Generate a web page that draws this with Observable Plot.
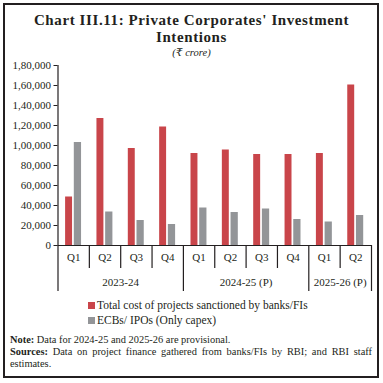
<!DOCTYPE html>
<html>
<head>
<meta charset="utf-8">
<script src="https://cdn.jsdelivr.net/npm/d3@7"></script>
<script src="https://cdn.jsdelivr.net/npm/@observablehq/plot@0.6"></script>
<style>
  html, body { margin: 0; padding: 0; background: #fff; }
  body { width: 383px; height: 383px; position: relative; overflow: hidden; font-family: "Liberation Serif", "DejaVu Serif", serif; color: #231f20; }
  #frame { position: absolute; left: 3px; top: 3px; width: 372px; height: 371px; border: 2px solid #231f20; }
  .title { position: absolute; left: 0; width: 383px; text-align: center; font-weight: bold; font-size: 15px; line-height: 16px; letter-spacing: 0.6px; color: #231f20; white-space: nowrap; }
  #subtitle { position: absolute; left: 0; top: 46.5px; width: 383px; text-align: center; font-style: italic; font-size: 10.5px; line-height: 11px; }
  #chart { position: absolute; left: 0; top: 55px; }
  .leg { position: absolute; left: 88px; font-size: 11.5px; line-height: 12px; white-space: nowrap; }
  .sw { display: inline-block; width: 7px; height: 7px; margin-right: 2px; vertical-align: 0px; }
  .note { position: absolute; left: 10px; width: 362px; font-size: 10.4px; line-height: 12px; white-space: nowrap; }
  .just { text-align: justify; text-align-last: justify; white-space: normal; }
</style>
</head>
<body>
<div id="frame"></div>
<div class="title" style="top:12px">Chart III.11: Private Corporates' Investment</div>
<div class="title" style="top:29px">Intentions</div>
<div id="subtitle">(₹ crore)</div>
<div id="chart"></div>
<div id="legend"></div>
<div class="note" style="top:334px"><b>Note:</b> Data for 2024-25 and 2025-26 are provisional.</div>
<div class="note just" style="top:346px"><b>Sources:</b> Data on project finance gathered from banks/FIs by RBI; and RBI staff</div>
<div class="note" style="top:358px">estimates.</div>
<script>
const quarters = ["Q1","Q2","Q3","Q4","Q1","Q2","Q3","Q4","Q1","Q2"];
const years = ["2023-24","2023-24","2023-24","2023-24","2024-25 (P)","2024-25 (P)","2024-25 (P)","2024-25 (P)","2025-26 (P)","2025-26 (P)"];
const projects = [48500, 127000, 97000, 118500, 92000, 95500, 91000, 91000, 92000, 160500];
const ecbs = [103000, 33500, 25000, 21000, 37500, 33000, 36500, 26000, 23500, 30000];
const seriesNames = ["Total cost of projects sanctioned by banks/FIs", "ECBs/ IPOs (Only capex)"];
const yTicks = [0, 20000, 40000, 60000, 80000, 100000, 120000, 140000, 160000, 180000];

const RED = "#c9454a";
const GRAY = "#939598";
const INK = "#231f20";

function indian(n) {
  const s = String(n);
  if (s.length <= 3) return s;
  const last3 = s.slice(-3);
  const rest = s.slice(0, -3).replace(/\B(?=(\d{2})+(?!\d))/g, ",");
  return rest + "," + last3;
}

const rows = quarters.map((q, i) => ({i, q, year: years[i], projects: projects[i], ecbs: ecbs[i]}));

// year groups derived from the years list
const groups = [];
years.forEach((y, i) => {
  const g = groups[groups.length - 1];
  if (g && g.label === y) g.end = i + 1;
  else groups.push({label: y, start: i, end: i + 1});
});
const longBounds = [...new Set(groups.flatMap(g => [g.start, g.end]))];
const shortBounds = d3.range(1, quarters.length).filter(b => !longBounds.includes(b));

const plot = Plot.plot({
  width: 383,
  height: 245,
  marginTop: 10,
  marginBottom: 55,
  marginLeft: 57.5,
  marginRight: 12,
  style: {fontFamily: '"Liberation Serif", "DejaVu Serif", serif', fontSize: "11px", color: INK, background: "transparent", overflow: "visible"},
  x: {domain: [0, quarters.length], axis: null},
  y: {domain: [0, 180000], ticks: yTicks, tickFormat: indian, tickSize: 4, tickPadding: 3, label: null},
  marks: [
    Plot.rectY(rows, {x1: d => d.i, x2: d => d.i + 1, y: "projects", fill: RED, insetLeft: 7.6, insetRight: 16.8}),
    Plot.rectY(rows, {x1: d => d.i, x2: d => d.i + 1, y: "ecbs", fill: GRAY, insetLeft: 16.3, insetRight: 7.8}),
    Plot.ruleY([0], {stroke: INK, strokeWidth: 1.2}),
    Plot.ruleX([0], {y1: 0, y2: 180000, stroke: INK, strokeWidth: 1.2}),
    Plot.ruleX(shortBounds, {y1: 0, y2: 0, insetBottom: -23, stroke: INK, strokeWidth: 1.2}),
    Plot.ruleX(longBounds, {y1: 0, y2: 0, insetBottom: -46, stroke: INK, strokeWidth: 1.2}),
    Plot.text(rows, {x: d => d.i + 0.5, y: 0, dy: 12, text: "q", fill: INK, fontSize: 11}),
    Plot.text(groups, {x: d => (d.start + d.end) / 2, y: 0, dy: 37, text: "label", fill: INK, fontSize: 11})
  ]
});
document.getElementById("chart").appendChild(plot);

const legend = document.getElementById("legend");
[[seriesNames[0], RED, 302], [seriesNames[1], GRAY, 317]].forEach(([name, color, top]) => {
  const div = document.createElement("div");
  div.className = "leg";
  div.style.top = (top - 3) + "px";
  const sw = document.createElement("span");
  sw.className = "sw";
  sw.style.background = color;
  div.appendChild(sw);
  div.appendChild(document.createTextNode(name));
  legend.appendChild(div);
});
</script>
</body>
</html>
